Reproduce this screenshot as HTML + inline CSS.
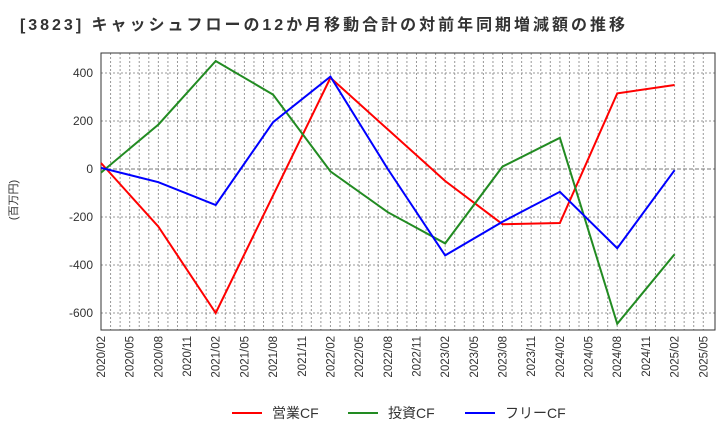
<!DOCTYPE html>
<html><head><meta charset="utf-8"><style>
body{margin:0;background:#fff;width:720px;height:440px;overflow:hidden}
svg text{font-family:"Liberation Sans","Noto Sans CJK JP",sans-serif}
</style></head><body>
<svg id="c" width="720" height="440" xmlns="http://www.w3.org/2000/svg">
<text x="20" y="30" font-size="16" font-weight="bold" fill="#333" textLength="605" lengthAdjust="spacing">[3823]  キャッシュフローの12か月移動合計の対前年同期増減額の推移</text>
<text transform="translate(17,200) rotate(-90)" font-size="11" fill="#333" text-anchor="middle">(百万円)</text>
<g id="grid"></g><g id="axes"></g><g id="series"></g>
<g>
<line x1="232" y1="413" x2="262" y2="413" stroke="#f00" stroke-width="2"/><text x="272" y="418" font-size="14" fill="#333">営業CF</text>
<line x1="348" y1="413" x2="378" y2="413" stroke="#228b22" stroke-width="2"/><text x="388" y="418" font-size="14" fill="#333">投資CF</text>
<line x1="465" y1="413" x2="495" y2="413" stroke="#00f" stroke-width="2"/><text x="505" y="418" font-size="14" fill="#333">フリーCF</text>
</g>
</svg>
<script>
const xLabels=["2020/02","2020/05","2020/08","2020/11","2021/02","2021/05","2021/08","2021/11","2022/02","2022/05","2022/08","2022/11","2023/02","2023/05","2023/08","2023/11","2024/02","2024/05","2024/08","2024/11","2025/02","2025/05"];
const yTicks=[400,200,0,-200,-400,-600];
const pointIdx=[0,2,4,6,8,10,12,14,16,18,20];
const operating=[25,-240,-600,-110,380,165,-50,-230,-225,315,350];
const investing=[-15,185,450,310,-10,-180,-310,10,130,-645,-355];
const free=[5,-55,-150,195,385,0,-360,-220,-95,-330,-5];
const L=101,R=715,T=53,B=330,x0=101,dq=28.68;
const X=i=>x0+i*dq, Y=v=>169-v*0.24;
const NS="http://www.w3.org/2000/svg";
function mk(p,t,a){const e=document.createElementNS(NS,t);for(const k in a)e.setAttribute(k,a[k]);document.getElementById(p).appendChild(e);return e;}
for(let m=1;m<64;m++){const x=x0+m*dq/3;if(x>=R)break;
const l=mk('grid','line',{x1:x,y1:T,x2:x,y2:B,stroke:'#999','stroke-width':1,'stroke-dasharray':'2,2'});

}
yTicks.forEach(v=>{const l=mk('grid','line',{x1:L,y1:Y(v),x2:R,y2:Y(v),stroke:v===0?'#777':'#999','stroke-width':1,'stroke-dasharray':v===0?'4,2':'2,2'});


const t=mk('axes','text',{x:L-8,y:Y(v)+4,'font-size':12,fill:'#333','text-anchor':'end'});t.textContent=v;

});
const f=mk('axes','rect',{x:L,y:T,width:R-L,height:B-T,fill:'none',stroke:'#333','stroke-width':1});


xLabels.forEach((s,i)=>{const x=X(i);const t=mk('axes','text',{transform:`translate(${x+4},${B+6}) rotate(-90)`,'font-size':11.5,fill:'#333','text-anchor':'end'});t.textContent=s;

});
[[operating,'#f00','operating-cf-line'],[investing,'#228b22','investing-cf-line'],[free,'#00f','free-cf-line']].forEach(([d,c,n])=>{
const p=mk('series','polyline',{points:d.map((v,k)=>X(pointIdx[k])+','+Y(v)).join(' '),fill:'none',stroke:c,'stroke-width':2});

});
</script>
</body></html>
